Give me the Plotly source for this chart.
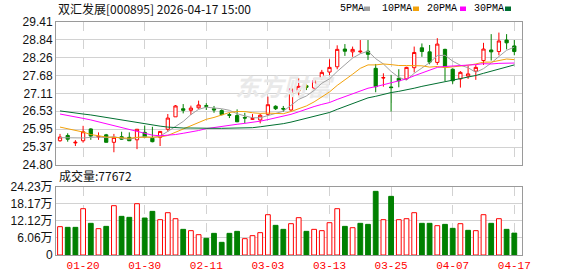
import plotly.graph_objects as go

# ---------------- data ----------------
dates = ["01-15","01-16","01-19","01-20","01-21","01-22","01-23","01-26","01-27","01-28",
         "01-29","01-30","02-02","02-03","02-04","02-05","02-06","02-09","02-10","02-11",
         "02-12","02-13","02-24","02-25","02-26","02-27","03-02","03-03","03-04","03-05",
         "03-06","03-09","03-10","03-11","03-12","03-13","03-16","03-17","03-18","03-19",
         "03-20","03-23","03-24","03-25","03-26","03-27","03-30","03-31","04-01","04-02",
         "04-03","04-07","04-08","04-09","04-10","04-13","04-14","04-15","04-16","04-17"]

opens = [25.58,25.75,25.51,25.58,25.96,25.70,25.77,25.53,25.71,25.69,
         25.61,25.85,25.66,25.69,25.95,26.35,26.61,26.56,26.64,26.71,
         26.61,26.55,26.42,26.39,26.33,26.27,26.25,26.43,26.69,26.62,
         26.57,27.19,27.35,27.28,27.58,27.79,27.96,28.53,28.44,28.44,
         28.46,27.91,27.60,27.31,27.59,27.57,27.93,28.57,28.44,28.10,
         28.52,27.88,27.57,27.66,27.82,28.16,28.50,28.45,28.82,28.63]
highs = [25.80,25.82,25.60,26.06,25.98,25.85,25.80,25.80,25.87,25.85,
         25.95,26.07,26.03,25.89,26.44,26.73,26.76,26.71,26.87,26.79,
         26.70,26.59,26.48,26.59,26.48,26.44,26.44,27.00,26.72,26.70,
         27.27,27.59,27.41,27.59,27.86,28.20,28.65,28.69,28.61,28.82,
         28.82,28.05,27.75,27.70,27.88,27.96,28.61,28.71,28.66,28.88,
         28.54,27.91,27.82,27.99,28.02,28.73,29.01,29.06,29.01,28.82]
lows = [25.55,25.55,25.41,25.52,25.61,25.61,25.53,25.21,25.61,25.58,
        25.31,25.70,25.53,25.41,25.87,26.35,26.46,26.41,26.61,26.57,
        26.48,26.40,26.31,26.18,26.14,26.25,26.14,26.38,26.57,26.51,
        26.54,27.02,27.21,27.21,27.54,27.69,27.88,28.31,28.28,28.39,
        28.18,27.14,27.32,26.52,27.30,27.54,27.78,28.28,28.04,28.02,
        27.50,27.41,27.29,27.57,27.54,28.02,28.16,28.33,28.52,28.33]
closes = [25.70,25.63,25.53,25.87,25.73,25.72,25.53,25.69,25.63,25.58,
          25.95,25.70,25.55,25.88,26.31,26.70,26.56,26.63,26.73,26.69,
          26.57,26.42,26.40,26.19,26.31,26.29,26.40,26.74,26.61,26.60,
          27.25,27.33,27.30,27.51,27.78,27.94,28.52,28.46,28.52,28.46,
          28.36,27.32,27.61,27.29,27.51,27.94,28.42,28.45,28.11,28.69,
          27.96,27.51,27.78,27.73,27.94,28.53,28.44,28.79,28.73,28.45]

ma5 = [25.68,25.67,25.66,25.67,25.69,25.70,25.68,25.71,25.66,25.63,
       25.68,25.71,25.68,25.73,25.88,26.03,26.20,26.42,26.59,26.66,
       26.64,26.61,26.56,26.45,26.38,26.32,26.32,26.39,26.47,26.53,
       26.72,26.91,27.02,27.20,27.43,27.57,27.81,28.04,28.24,28.38,
       28.46,28.22,28.05,27.81,27.62,27.53,27.75,27.92,28.09,28.32,
       28.33,28.14,28.01,27.93,27.78,27.90,28.08,28.29,28.49,28.59]
ma10 = [26.02,25.97,25.92,25.86,25.78,25.73,25.70,25.69,25.68,25.66,
        25.69,25.69,25.70,25.70,25.75,25.85,25.96,26.05,26.16,26.27,
        26.33,26.40,26.49,26.52,26.52,26.48,26.46,26.47,26.46,26.45,
        26.52,26.61,26.70,26.83,26.98,27.15,27.36,27.53,27.72,27.91,
        28.02,28.02,28.05,28.03,28.00,28.00,27.99,27.99,27.95,27.97,
        27.93,27.95,27.97,28.01,28.05,28.11,28.11,28.15,28.21,28.19]
ma20 = [26.44,26.40,26.35,26.30,26.25,26.19,26.14,26.08,26.02,25.96,
        25.89,25.82,25.76,25.74,25.75,25.78,25.82,25.86,25.91,25.97,
        26.01,26.05,26.09,26.11,26.14,26.17,26.21,26.26,26.31,26.36,
        26.43,26.51,26.60,26.68,26.75,26.81,26.91,27.00,27.09,27.18,
        27.27,27.32,27.38,27.43,27.49,27.57,27.67,27.76,27.83,27.94,
        27.97,27.98,28.01,28.02,28.03,28.06,28.05,28.07,28.08,28.08]
ma30 = [26.54,26.50,26.47,26.44,26.41,26.37,26.33,26.29,26.25,26.20,
        26.16,26.11,26.08,26.05,26.02,26.00,25.99,25.99,25.98,25.98,
        25.98,25.98,25.98,25.98,25.98,26.00,26.03,26.06,26.09,26.13,
        26.18,26.24,26.30,26.35,26.42,26.49,26.59,26.68,26.78,26.88,
        26.96,27.01,27.08,27.13,27.17,27.21,27.27,27.33,27.38,27.44,
        27.49,27.53,27.57,27.62,27.68,27.75,27.82,27.89,27.96,28.02]

volumes = [100500,98100,98100,164300,112300,93400,101600,174900,137100,133600,
           182000,131200,154800,125300,150100,128800,91000,86300,72100,59100,
           76800,44900,76800,83900,57900,68600,79200,143000,105200,91000,
           111100,132400,83900,91000,86300,114600,164300,101600,96900,112300,
           108700,225800,125300,208000,125300,128800,150100,112300,112300,104000,
           108700,94600,111100,87500,86300,143000,112300,128800,91000,77672]
vol_up = [1,0,0,1,0,1,0,1,0,0, 1,0,0,1,1,1,0,1,1,0,
          0,0,0,0,1,1,1,1,0,0, 1,1,0,1,1,1,1,0,1,0,
          0,0,1,0,1,1,1,0,0,1, 0,0,1,0,1,1,0,1,0,0]

price_tick_labels = ["24.80","25.37","25.95","26.53","27.11","27.68","28.26","28.84","29.41"]
vol_tick_values = [0, 60600, 121200, 181700, 242300]
vol_tick_labels = ["0", "6.06万", "12.12万", "18.17万", "24.23万"]
x_tick_dates = ["01-20","01-30","02-11","03-03","03-13","03-25","04-07","04-17"]

title_text = "双汇发展[000895] 2026-04-17 15:00"
vol_title = "成交量:77672"
ma_names = ["5PMA", "10PMA", "20PMA", "30PMA"]
ma_colors = ["#a0a0a0", "#f2a20c", "#ff00ff", "#006f30"]

# ---------------- layout helpers ----------------
W, H = 578, 276
L, R = 56, 522
def fx(px):
    return (px - L) / (R - L)
def fy(py):
    return (H - py) / H

pmin, pmax = 24.80, 29.41
n_tick = len(price_tick_labels)
price_tick_vals = [pmin + (pmax - pmin) * i / (n_tick - 1) for i in range(n_tick)]

RED = "#ff0000"
GREEN = "#008000"
GRID = "#d2d2d2"
BORDER = "#9a9a9a"
LABEL_FONT = dict(family="Liberation Sans, Arial, sans-serif", size=12, color="#111111")

fig = go.Figure()

# watermark (beneath everything)
fig.add_trace(go.Scatter(
    x=["03-05"], y=[27.22], mode="text", text=["<b><i>东方财富</i></b>"],
    textfont=dict(family="Noto Sans CJK SC", size=24, color="#e9e9e9"),
    hoverinfo="skip", showlegend=False, xaxis="x", yaxis="y"))

fig.add_trace(go.Candlestick(
    x=dates, open=opens, high=highs, low=lows, close=closes,
    increasing=dict(line=dict(color=RED, width=1), fillcolor="#ffffff"),
    decreasing=dict(line=dict(color=GREEN, width=1), fillcolor=GREEN),
    whiskerwidth=0, showlegend=False, hoverinfo="skip",
    xaxis="x", yaxis="y"))

for name, series, col in zip(ma_names, [ma5, ma10, ma20, ma30], ma_colors):
    fig.add_trace(go.Scatter(
        x=dates, y=series, mode="lines", name=name,
        line=dict(color=col, width=1), showlegend=False,
        hoverinfo="skip", xaxis="x", yaxis="y"))

fig.add_trace(go.Bar(
    x=dates, y=volumes,
    marker=dict(color=["#ffffff" if u else GREEN for u in vol_up],
                line=dict(color=[RED if u else GREEN for u in vol_up], width=1)),
    width=0.62, showlegend=False, hoverinfo="skip",
    xaxis="x2", yaxis="y2"))

common_x = dict(
    type="category", categoryorder="array", categoryarray=dates,
    range=[-0.52, 60.0], tickvals=x_tick_dates, ticktext=x_tick_dates,
    showgrid=True, gridcolor=GRID, griddash="dash", gridwidth=1,
    showline=True, mirror=True, linecolor=BORDER, linewidth=1,
    ticks="", zeroline=False, fixedrange=True)

fig.update_layout(
    width=W, height=H, autosize=False,
    margin=dict(l=L, r=W - R, t=0, b=0, pad=0),
    paper_bgcolor="#ffffff", plot_bgcolor="#ffffff",
    boxgap=0.4, bargap=0.3,
    xaxis=dict(**common_x, domain=[0, 1], anchor="y", showticklabels=False,
               rangeslider=dict(visible=False)),
    xaxis2=dict(**common_x, domain=[0, 1], anchor="y2", showticklabels=True,
                tickfont=dict(family="Liberation Mono, monospace", size=11, color=RED)),
    yaxis=dict(domain=[fy(165), fy(21.7)], range=[pmin, pmax],
               tickvals=price_tick_vals, ticktext=price_tick_labels,
               showgrid=True, gridcolor=GRID, gridwidth=1, zeroline=False,
               showline=True, mirror=True, linecolor=BORDER, linewidth=1,
               ticks="", tickfont=LABEL_FONT, fixedrange=True, automargin=False),
    yaxis2=dict(domain=[fy(255), fy(186.7)], range=[0, vol_tick_values[-1]],
                tickvals=vol_tick_values, ticktext=vol_tick_labels,
                showgrid=True, gridcolor=GRID, gridwidth=1, zeroline=False,
                showline=True, mirror=True, linecolor=BORDER, linewidth=1,
                ticks="", tickfont=dict(family="Liberation Sans, Noto Sans CJK SC, sans-serif",
                                        size=12, color="#111111"),
                fixedrange=True, automargin=False),
)

annotations = [
    dict(text=title_text, x=fx(56), y=fy(8), xref="paper", yref="paper",
         xanchor="left", yanchor="middle", showarrow=False,
         font=dict(family="Noto Sans CJK SC, sans-serif", size=12, color="#111111")),
    dict(text=vol_title, x=fx(57), y=fy(176), xref="paper", yref="paper",
         xanchor="left", yanchor="middle", showarrow=False,
         font=dict(family="Noto Sans CJK SC, sans-serif", size=12, color="#111111")),
]
shapes = []
legend_text_x = [338, 380, 425, 472]
legend_sq_x = [364, 413, 460, 505]
for name, col, tx, sx in zip(ma_names, ma_colors, legend_text_x, legend_sq_x):
    annotations.append(dict(text=name, x=fx(tx), y=fy(8.5), xref="paper", yref="paper",
                            xanchor="left", yanchor="middle", showarrow=False,
                            font=dict(family="Liberation Mono, monospace", size=10, color="#000000")))
    shapes.append(dict(type="rect", xref="paper", yref="paper",
                       x0=fx(sx), x1=fx(sx + 6), y0=fy(11), y1=fy(6.5),
                       fillcolor=col, line=dict(width=0)))

fig.update_layout(annotations=annotations, shapes=shapes)

fig.write_html("out.html")
